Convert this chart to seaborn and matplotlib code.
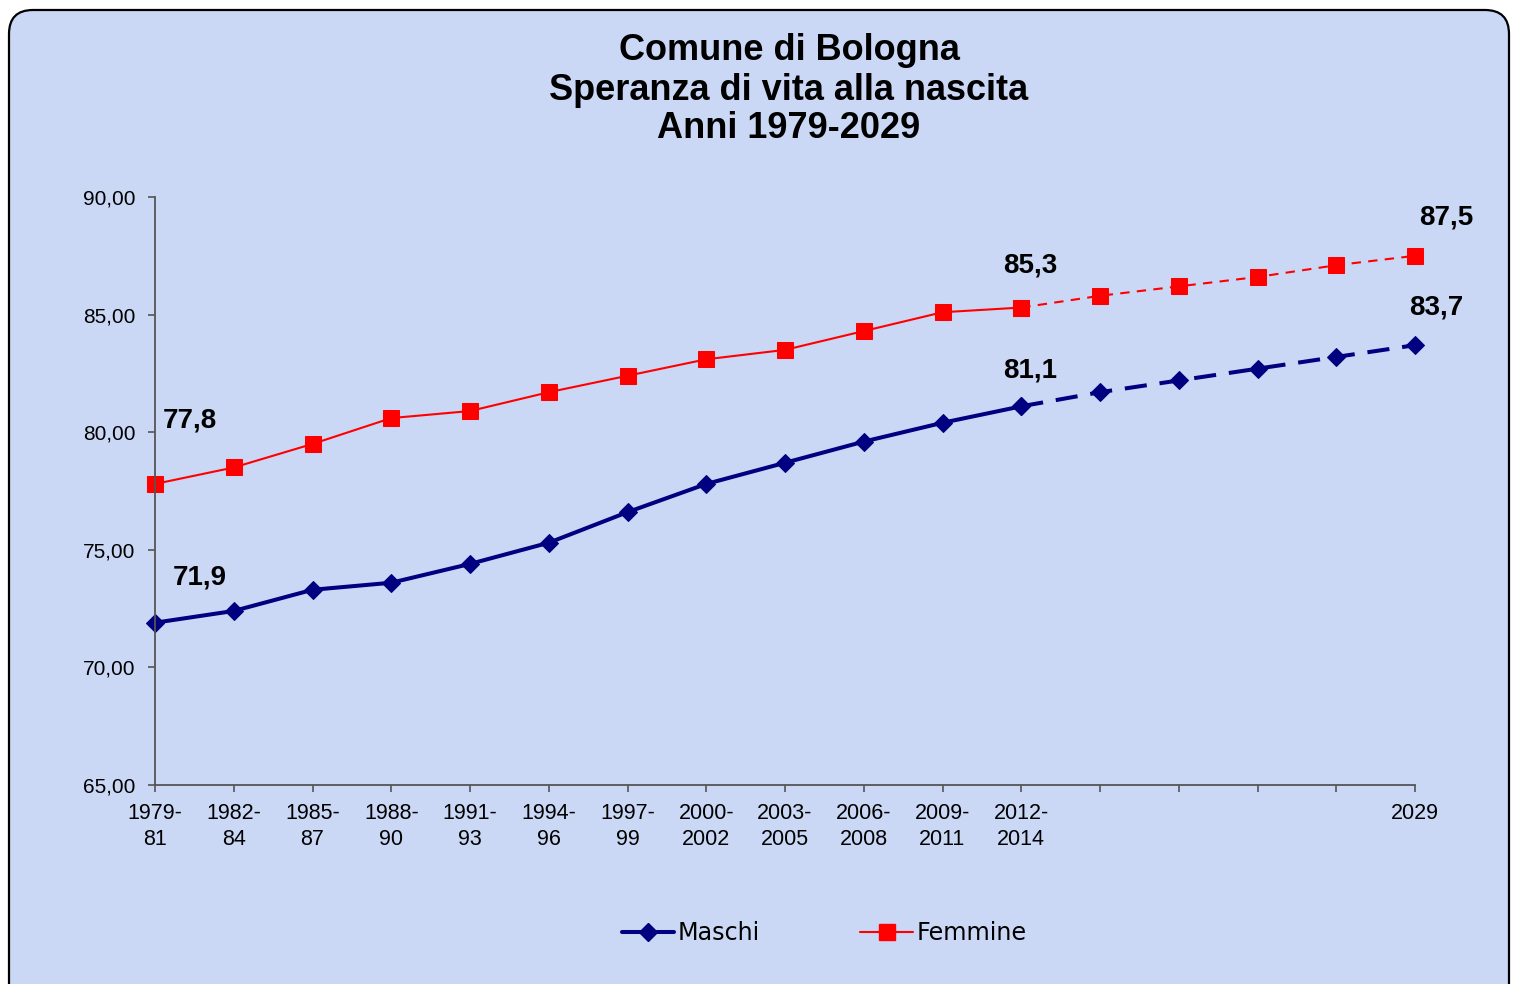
import seaborn as sns
import matplotlib.pyplot as plt
import pandas as pd
from matplotlib.patches import FancyBboxPatch
from matplotlib.lines import Line2D
from matplotlib.ticker import FuncFormatter

# Data (speranza di vita alla nascita, Comune di Bologna)
periodi = ["1979-\n81", "1982-\n84", "1985-\n87", "1988-\n90", "1991-\n93", "1994-\n96",
           "1997-\n99", "2000-\n2002", "2003-\n2005", "2006-\n2008", "2009-\n2011",
           "2012-\n2014", "", "", "", "", "2029"]
maschi = [71.9, 72.4, 73.3, 73.6, 74.4, 75.3, 76.6, 77.8, 78.7, 79.6, 80.4, 81.1,
          81.7, 82.2, 82.7, 83.2, 83.7]
femmine = [77.8, 78.5, 79.5, 80.6, 80.9, 81.7, 82.4, 83.1, 83.5, 84.3, 85.1, 85.3,
           85.8, 86.2, 86.6, 87.1, 87.5]
ultimo_osservato = 11  # 2012-2014, after that projections

df = pd.DataFrame({"pos": range(len(periodi)), "Maschi": maschi, "Femmine": femmine})
oss = df[df["pos"] <= ultimo_osservato]
prev = df[df["pos"] >= ultimo_osservato]

MASCHI_COL = "#000080"
FEMMINE_COL = "#ff0000"
BG = "#cad8f5"

sns.set_style("ticks")
plt.rcParams["font.family"] = ["Liberation Sans", "DejaVu Sans"]
plt.rcParams["text.color"] = "black"
plt.rcParams["xtick.color"] = "black"
plt.rcParams["ytick.color"] = "black"

fig = plt.figure(figsize=(15.13, 9.84), dpi=100)
fig.patch.set_facecolor("white")

# rounded chart area with border
fig.patches.append(FancyBboxPatch((9, -60), 1500, 1034, boxstyle="round,pad=0,rounding_size=24",
                                  transform=None, facecolor=BG, edgecolor="black",
                                  linewidth=1.6, zorder=-10))

ax = fig.add_axes([155 / 1513, 1 - 785 / 984, 1260 / 1513, 588 / 984])
ax.set_facecolor("none")

# Maschi
sns.lineplot(data=oss, x="pos", y="Maschi", ax=ax, color=MASCHI_COL, linewidth=2.9,
             marker="D", markersize=9, markeredgecolor=MASCHI_COL, clip_on=False)
sns.lineplot(data=prev, x="pos", y="Maschi", ax=ax, color=MASCHI_COL, linewidth=2.9,
             linestyle=(0, (5.5, 3.2)), marker="D", markersize=9,
             markeredgecolor=MASCHI_COL, clip_on=False)
# Femmine
sns.lineplot(data=oss, x="pos", y="Femmine", ax=ax, color=FEMMINE_COL, linewidth=1.5,
             marker="s", markersize=11, markeredgecolor=FEMMINE_COL, clip_on=False)
sns.lineplot(data=prev, x="pos", y="Femmine", ax=ax, color=FEMMINE_COL, linewidth=1.5,
             linestyle=(0, (4.5, 3.5)), marker="s", markersize=11,
             markeredgecolor=FEMMINE_COL, clip_on=False)

ax.set_xlim(0, len(periodi) - 1)
ax.set_ylim(65, 90)
ax.set_yticks([65, 70, 75, 80, 85, 90])
ax.yaxis.set_major_formatter(FuncFormatter(lambda v, p: f"{v:.2f}".replace(".", ",")))
ax.set_xticks(range(len(periodi)))
ax.set_xticklabels(periodi, fontsize=15.5, linespacing=1.3)
ax.tick_params(axis="y", labelsize=15, length=5, width=1.2, color="#555555",
               labelcolor="black", pad=9)
ax.tick_params(axis="x", length=5, width=1.2, color="#555555", labelcolor="black", pad=8)
ax.set_xlabel("")
ax.set_ylabel("")
sns.despine(ax=ax)
for s in ("left", "bottom"):
    ax.spines[s].set_color("#555555")
    ax.spines[s].set_linewidth(1.3)

# data labels
etichette = [
    (0, femmine[0], (8, 63), "left"),
    (0, maschi[0], (18, 45), "left"),
    (ultimo_osservato, femmine[ultimo_osservato], (9, 42), "center"),
    (ultimo_osservato, maschi[ultimo_osservato], (9, 36), "center"),
    (len(periodi) - 1, femmine[-1], (31, 38), "center"),
    (len(periodi) - 1, maschi[-1], (21, 38), "center"),
]
for x, y, off, ha in etichette:
    ax.annotate(f"{y:.1f}".replace(".", ","), (x, y), xytext=off, textcoords="offset pixels",
                ha=ha, va="center", fontsize=20, fontweight="bold", color="black",
                annotation_clip=False)

# title
for testo, ypix in [("Comune di Bologna", 50), ("Speranza di vita alla nascita", 90),
                    ("Anni 1979-2029", 128)]:
    fig.text(789 / 1513, 1 - ypix / 984, testo, ha="center", va="center",
             fontsize=26, fontweight="bold", color="black")

# legend
handles = [
    Line2D([], [], color=MASCHI_COL, linewidth=2.9, marker="D", markersize=9),
    Line2D([], [], color=FEMMINE_COL, linewidth=1.5, marker="s", markersize=11),
]
leg = fig.legend(handles, ["Maschi", "Femmine"], loc="center",
                 bbox_to_anchor=(824 / 1513, 1 - 933 / 984),
                 ncol=2, frameon=False, handlelength=2.2, handletextpad=0.15, columnspacing=4.2,
                 prop={"family": "DejaVu Sans", "size": 17.2})
for t in leg.get_texts():
    t.set_color("black")

fig.savefig("out.png", dpi=100)
plt.close(fig)
